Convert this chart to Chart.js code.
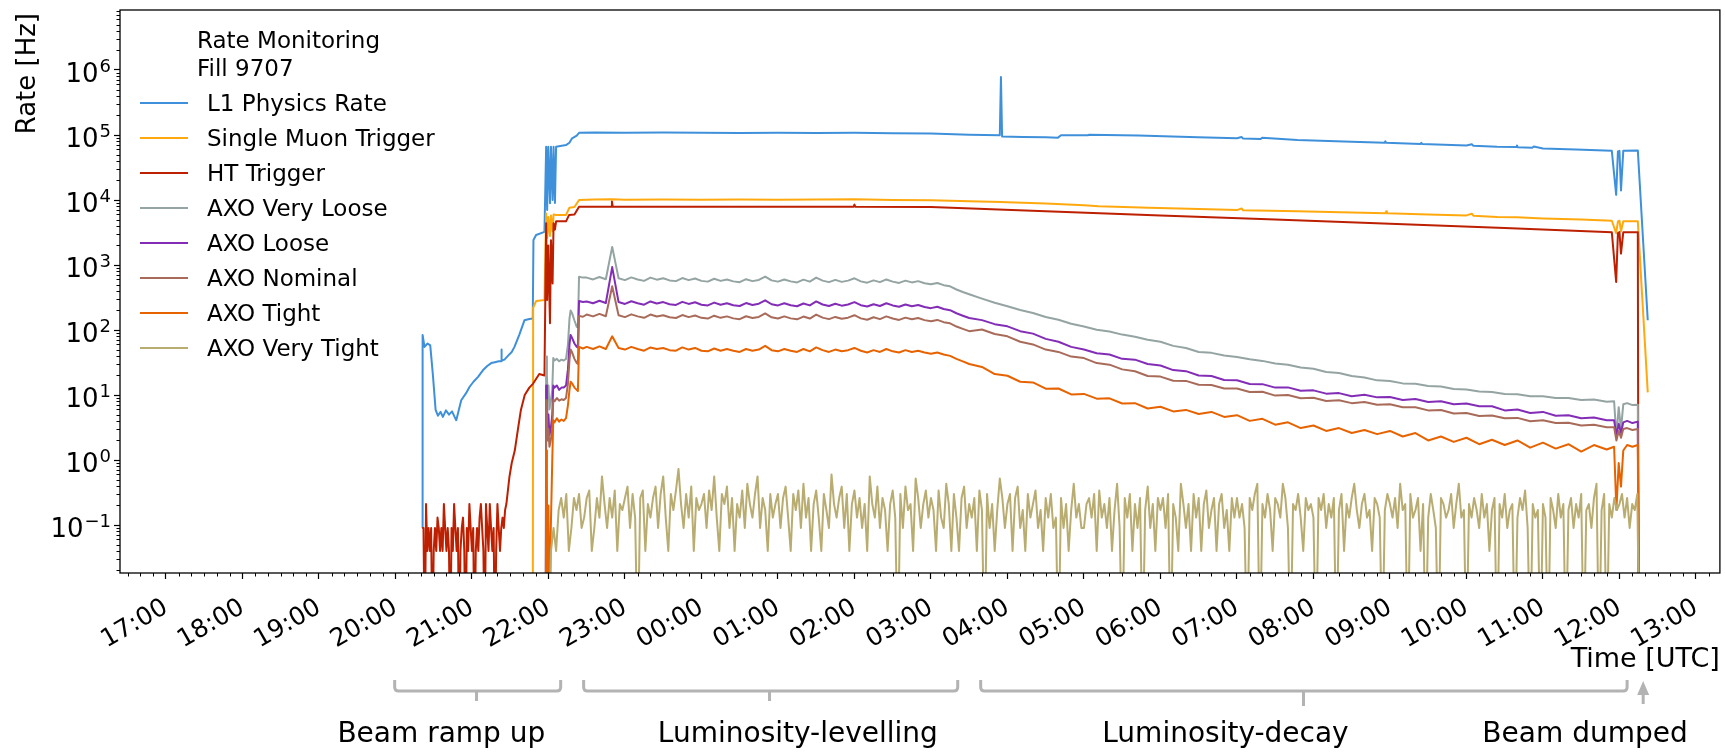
<!DOCTYPE html>
<html>
<head>
<meta charset="utf-8">
<title>Rate Monitoring - Fill 9707</title>
<script src="https://cdn.jsdelivr.net/npm/chart.js@4.4.1/dist/chart.umd.min.js"></script>
<style>
  html, body { margin: 0; padding: 0; background: #fff; overflow: hidden; }
  canvas { display: block; }
</style>
</head>
<body>
<canvas id="rates" width="1725" height="752"></canvas>
<script>
// time is in hours from 00:00 of the first day (36 = 12:00 next day)
const hourTicks = [17, 18, 19, 20, 21, 22, 23, 24, 25, 26, 27, 28, 29, 30, 31, 32, 33, 34, 35, 36, 37];
const rateTicks = [0.1, 1, 10, 100, 1e3, 1e4, 1e5, 1e6];
// a rate of 0 has no place on a log axis: it is drawn below the frame, like matplotlib clips it
const rateFloor = 1e-3;

const seriesLabels = ['L1 Physics Rate', 'Single Muon Trigger', 'HT Trigger', 'AXO Very Loose',
  'AXO Loose', 'AXO Nominal', 'AXO Tight', 'AXO Very Tight'];
const seriesColors = ['#3f90da', '#ffa90e', '#bd1f01', '#94a4a2', '#832db6', '#a96b59', '#e76300', '#b9ac70'];

// beam phases drawn under the time axis
const phaseNames = ['Beam ramp up', 'Luminosity-levelling', 'Luminosity-decay'];
const phaseFrom = [19.99, 22.46, 27.65];
const phaseTo = [22.16, 27.35, 36.10];
const phaseMid = [21.06, 24.89, 31.87];
const phaseTextAt = [20.6, 25.26, 30.85];
const dumpTime = 36.31;
const dumpTextAt = 35.55;

function timeGrid(startHour, stepMin, count) {
  const out = [];
  for (let i = 0; i < count; i++) out.push(+(startHour + i * stepMin / 60).toFixed(4));
  return out;
}

// L1 physics rate
const l1Time = [20.35, 20.355, 20.38, 20.42, 20.455, 20.49, 20.525, 20.555, 20.59, 20.62, 20.66, 20.70, 20.74, 20.77,
  20.795, 20.86, 20.93, 20.97, 21.02, 21.08, 21.143, 21.20, 21.252, 21.30, 21.35, 21.38, 21.385, 21.39, 21.425, 21.47,
  21.52, 21.556, 21.62, 21.686, 21.75, 21.795, 21.804, 21.839, 21.948, 21.97, 21.983, 21.998, 22.02, 22.033, 22.054,
  22.067, 22.085, 22.10, 22.23, 22.274, 22.309, 22.37, 22.40, 22.6, 23.0, 23.5, 24.0, 24.5, 25.0, 25.5, 26.0, 26.5,
  27.0, 27.5, 27.9, 27.915, 27.93, 28.2, 28.5, 28.66, 28.70, 29.05, 29.07, 29.71, 30.49, 31.0, 31.06, 31.08, 31.31,
  31.33, 31.79, 32.5, 32.93, 32.94, 32.95, 33.40, 33.41, 33.42, 34.0, 34.07, 34.09, 34.4, 34.65, 34.66, 34.67, 34.86,
  34.88, 35.0, 35.43, 35.9, 35.957, 35.98, 36.0, 36.02, 36.05, 36.24, 36.37];
const l1Rate = [0.09, 84, 55, 62, 58, 20, 5.9, 4.8, 5.5, 4.6, 5.8, 5.0, 5.6, 4.7, 4.1, 8.3, 11, 13.4, 16, 19, 24, 28,
  31, 32, 33, 33, 50, 34, 35, 40, 46, 55, 85, 141, 148, 150, 2430, 2900, 3240, 66000, 7000, 66000, 8900, 66000, 10000,
  66000, 9000, 66000, 70000, 76000, 89000, 98000, 108000, 109000, 108000, 109000, 108000, 107000, 108000, 107000,
  108000, 106000, 105000, 101000, 99000, 780000, 95000, 93000, 92000, 91000, 99000, 99000, 101000, 98000, 92000,
  89000, 93000, 88500, 87000, 91000, 84000, 79000, 76000, 80000, 76000, 73000, 76000, 73000, 69000, 72000, 68500,
  66000, 65500, 69000, 65000, 63500, 66500, 62000, 60000, 57000, 12000, 56000, 57000, 14000, 57000, 58000, 141];

// single muon trigger
const muTime = [21.795, 21.80, 21.84, 21.948, 21.97, 21.983, 21.998, 22.02, 22.033, 22.054, 22.067, 22.10, 22.23,
  22.274, 22.34, 22.40, 22.6, 22.83, 23.0, 23.5, 24.0, 24.5, 25.0, 25.5, 26.0, 26.5, 27.0, 27.5, 27.92, 28.0, 28.5,
  29.0, 29.19, 29.85, 30.5, 31.0, 31.06, 31.08, 31.79, 32.5, 32.94, 32.95, 32.96, 33.5, 34.0, 34.07, 34.09, 34.4,
  34.66, 35.0, 35.5, 35.9, 35.957, 35.98, 36.0, 36.02, 36.05, 36.24, 36.37];
const muRate = [0, 220, 280, 290, 6200, 2600, 5500, 2800, 5800, 3300, 6000, 5900, 5900, 7600, 7800, 10000, 10200,
  10300, 10100, 10200, 10100, 10200, 10100, 10200, 10300, 10000, 9900, 9600, 9300, 9200, 8800, 8300, 8000, 7600,
  7300, 7000, 7400, 6950, 6700, 6400, 6250, 6700, 6250, 6000, 5800, 6150, 5750, 5500, 5450, 5200, 5000, 4800, 3100,
  4700, 4800, 3300, 4700, 4700, 11];

// HT trigger: noisy start sampled every minute, then the ramp and the fill
const htTime = timeGrid(20.35, 1, 67).concat([21.49, 21.52, 21.56, 21.60, 21.64, 21.69, 21.75, 21.80, 21.88, 21.948,
  21.97, 21.983, 21.998, 22.02, 22.033, 22.054, 22.067, 22.085, 22.10, 22.23, 22.27, 22.34, 22.40, 22.82, 22.83,
  22.84, 23.5, 24.5, 25.5, 25.99, 26.0, 26.01, 27.0, 28.5, 30.0, 31.5, 33.0, 34.5, 35.9, 35.957, 35.98, 36.0, 36.02,
  36.05, 36.24, 36.25]);
const htRate = [0.09, 0.09, 0, 0.21, 0.04, 0.09, 0.04, 0.09, 0, 0.04, 0.09, 0.04, 0.13, 0.09, 0.04, 0.09, 0.04, 0.21,
  0.09, 0.04, 0.09, 0.04, 0, 0.09, 0.04, 0.21, 0.09, 0.04, 0.09, 0, 0.04, 0.09, 0.13, 0.04, 0, 0.09, 0.04, 0.21, 0.09,
  0.04, 0.09, 0, 0.04, 0.09, 0.04, 0.13, 0.21, 0.09, 0.04, 0, 0.21, 0.09, 0.04, 0.21, 0.09, 0.04, 0.09, 0, 0.04, 0.21,
  0.09, 0.04, 0.09, 0.13, 0.09, 0.17, 0.21,
  0.55, 0.9, 1.4, 2.9, 5.9, 10, 13, 15, 21, 20, 4400, 290, 2000, 127, 2400, 520, 4400, 3500, 4700, 4700, 5900, 6000,
  7900, 7900, 9500, 7900, 7900, 7850, 7900, 7900, 8500, 7900, 7800, 6700, 5800, 5000, 4300, 3700, 3200, 550, 3100,
  3200, 1500, 3200, 3200, 0];

// AXO thresholds: ramp, levelling every 5 min, decay every 10 min, beam dump
const axoTime = [21.965, 21.97, 21.98, 21.99, 22.00, 22.013, 22.03, 22.05, 22.063, 22.08, 22.11, 22.14, 22.17, 22.20,
  22.23, 22.255, 22.275, 22.29, 22.31, 22.34, 22.37, 22.385, 22.40, 22.45]
  .concat(timeGrid(22.5, 5, 61), timeGrid(27 + 40 / 60, 10, 50),
    [35.93, 35.96, 35.99, 36.02, 36.05, 36.10, 36.17, 36.24, 36.255]);

const axoVeryLoose = [0, 39, 20, 9, 14, 6, 8, 12, 37, 34, 36, 33, 35, 34, 36, 60, 150, 200, 180, 140, 112, 110, 660, 640,
  640, 600, 655, 605, 1900, 625, 585, 645, 600, 570, 640, 595, 625, 580, 565, 630, 585, 620, 570, 555,
  615, 570, 600, 560, 545, 605, 565, 590, 665, 580, 555, 600, 560, 540, 595, 555, 640, 575, 545, 590,
  550, 575, 625, 560, 535, 580, 545, 600, 555, 530, 575, 540, 565, 525, 505, 530, 490, 470, 420, 385, 355,
  304, 262, 232, 203, 183, 159, 144, 125, 113, 101, 95, 85, 79, 71, 66, 57, 53, 46, 44.5, 40.5,
  38.5, 35.5, 33.5, 30.5, 29.3, 26.5, 25.3, 22.6, 21.8, 19.6, 18.6, 16.8, 16.4, 15.1, 14.9, 13.8, 13.5, 12.4, 12.2, 11.3,
  11.1, 10.4, 10.3, 9.6, 9.6, 9.0, 9.0, 8.4, 8.5, 7.9,
  8.0, 2.3, 6.5, 3.0, 7.2, 7.5, 7.0, 7.1, 0];

const axoLoose = [0, 14, 9, 3, 5, 2.4, 3, 5, 14, 13, 14, 12, 13, 13, 14, 25, 60, 84, 75, 62, 55, 54, 280, 270,
  275, 258, 282, 260, 930, 269, 252, 277, 258, 245, 275, 256, 269, 249, 243, 271, 252, 267, 245, 239,
  264, 245, 258, 241, 234, 260, 243, 254, 286, 249, 239, 258, 241, 232, 256, 239, 275, 247, 234, 254,
  237, 247, 269, 241, 230, 249, 234, 258, 239, 228, 247, 232, 243, 226, 217, 228, 211, 202, 181, 166, 153,
  142, 123, 114, 96, 88, 73, 66, 55, 50, 44, 42, 36, 35, 30, 28.5, 24.2, 23.3, 20, 19.6, 17,
  16.9, 14.8, 14.7, 13, 13.1, 11.6, 11.8, 10.5, 10.7, 9.6, 10.1, 9.2, 9.3, 8.4, 8.7, 7.8, 8.0, 7.2, 7.4, 6.7,
  6.7, 5.8, 6.0, 5.3, 5.5, 4.8, 4.9, 4.4, 4.5, 4.1,
  4.1, 2.4, 3.6, 2.6, 3.8, 4.0, 3.7, 3.9, 0];

const axoNominal = [0, 8.3, 5, 2, 3, 1.6, 2, 3, 8.5, 8, 9, 8.2, 8.6, 8.4, 9, 15, 35, 50, 45, 36, 31, 30, 165, 160,
  173, 162, 177, 163, 470, 169, 158, 174, 162, 154, 173, 161, 169, 157, 153, 170, 158, 167, 154, 150,
  166, 154, 162, 151, 147, 163, 153, 159, 180, 157, 150, 162, 151, 146, 161, 150, 173, 155, 147, 159,
  149, 155, 169, 151, 144, 157, 147, 162, 150, 143, 155, 146, 153, 142, 136, 143, 132, 127, 113, 104, 96,
  102, 87, 80, 66, 60, 50, 46, 39, 37, 31, 29.3, 24.8, 23.2, 19.6, 19.2, 16.6, 16.5, 14.4, 14.3, 12.6,
  12.6, 11.1, 11.2, 9.8, 10.0, 8.9, 9.1, 8.1, 8.3, 7.5, 7.8, 7.1, 7.2, 6.5, 6.5, 5.8, 5.9, 5.2, 5.3, 4.75,
  4.85, 4.4, 4.45, 3.95, 4.1, 3.7, 3.75, 3.4, 3.5, 3.2,
  3.2, 2.0, 2.8, 2.2, 3.0, 3.1, 2.9, 3.0, 0];

const axoTight = [0, 1.4, 0.5, 0, 0.2, 0, 0.08, 1, 4.1, 3.8, 4.4, 3.9, 4.2, 4.0, 4.4, 7, 12, 16, 15, 13, 12, 11.5, 55, 52,
  55, 51, 56, 51, 80, 53, 50, 55, 51, 48, 54, 51, 53, 49, 48, 54, 50, 53, 48, 47,
  52, 48, 51, 48, 46, 51, 48, 50, 57, 49, 47, 51, 48, 46, 51, 47, 54, 49, 46, 50,
  47, 49, 53, 48, 45, 49, 46, 51, 47, 45, 49, 46, 48, 45, 43, 45, 42, 40, 36, 33, 30,
  27, 21, 19.8, 16, 15.6, 12.5, 12.6, 10.2, 10.4, 8.8, 8.9, 7.4, 7.5, 6.2, 6.6, 5.6, 5.9, 5.1, 5.5, 4.6,
  4.9, 4.0, 4.3, 3.5, 3.8, 3.1, 3.4, 2.8, 3.1, 2.6, 2.9, 2.5, 2.8, 2.3, 2.6, 2.0, 2.3, 1.9, 2.2, 1.75,
  2.05, 1.7, 2.0, 1.55, 1.85, 1.5, 1.75, 1.35, 1.7, 1.45,
  1.6, 0.17, 0.9, 0.39, 1.4, 1.7, 1.6, 1.7, 0];

// very tight: a few counts per lumi section, sampled every 2 min from 22:00, one row per hour
const vtTime = timeGrid(22, 2, 428).concat([36.26]);
const axoVeryTight = [
  0, 0.04, 0.09, 0.04, 0.17, 0.26, 0.13, 0.3, 0.04, 0.09, 0.26, 0.17, 0.3, 0.09, 0.13, 0.26, 0.34, 0.04, 0.09, 0.26, 0.13, 0.56, 0.21, 0.09, 0.26, 0.13, 0.34, 0.04, 0.21, 0.17,
  0.26, 0.39, 0.09, 0.3, 0.13, 0, 0.26, 0.34, 0.04, 0.21, 0.13, 0.26, 0.39, 0.09, 0.3, 0.56, 0.13, 0.04, 0.3, 0.17, 0.34, 0.73, 0.21, 0.09, 0.3, 0.13, 0.39, 0.04, 0.26, 0.17,
  0.21, 0.3, 0.09, 0.34, 0.17, 0.56, 0.13, 0.04, 0.3, 0.21, 0.39, 0.09, 0.26, 0.04, 0.21, 0.13, 0.34, 0.09, 0.43, 0.21, 0.13, 0.3, 0.56, 0.09, 0.26, 0.17, 0.04, 0.3, 0.13, 0.21,
  0.3, 0.09, 0.26, 0.39, 0.13, 0.04, 0.3, 0.17, 0.34, 0.09, 0.43, 0.13, 0.26, 0.04, 0.21, 0.34, 0.13, 0.04, 0.3, 0.17, 0.09, 0.6, 0.21, 0.13, 0.26, 0.39, 0.09, 0.3, 0.04, 0.21,
  0.34, 0.13, 0.26, 0.09, 0.21, 0.04, 0.56, 0.21, 0.13, 0.39, 0.09, 0.26, 0.17, 0.04, 0.21, 0.34, 0.13, 0, 0.3, 0.09, 0.39, 0.17, 0.21, 0.04, 0.52, 0.26, 0.09, 0.21, 0.34, 0.13,
  0.26, 0.17, 0.04, 0.34, 0.13, 0.09, 0.43, 0.21, 0.04, 0.3, 0.13, 0.04, 0.26, 0.39, 0.09, 0.21, 0.13, 0.26, 0.04, 0.34, 0.17, 0, 0.3, 0.09, 0.21, 0.04, 0.17, 0.52, 0.26, 0.09,
  0.21, 0.3, 0.04, 0.26, 0.39, 0.09, 0.17, 0.04, 0.3, 0.13, 0.21, 0.34, 0.09, 0.17, 0.04, 0.26, 0.13, 0.3, 0.09, 0.13, 0, 0.26, 0.09, 0.21, 0.04, 0.17, 0.43, 0.13, 0.21, 0.09,
  0.09, 0.21, 0.26, 0.13, 0.3, 0.04, 0.34, 0.13, 0.21, 0.09, 0.26, 0.04, 0.17, 0.43, 0.09, 0, 0.26, 0.13, 0.3, 0.04, 0.21, 0.09, 0.26, 0, 0.17, 0.39, 0.09, 0.21, 0.04, 0.26,
  0.17, 0.26, 0.09, 0.3, 0, 0.21, 0.13, 0.04, 0.43, 0.21, 0.09, 0.21, 0.04, 0.3, 0.13, 0.26, 0.04, 0.21, 0.34, 0.09, 0.17, 0.26, 0.04, 0.21, 0.3, 0.09, 0.17, 0.04, 0.26, 0.13,
  0.26, 0.13, 0.21, 0.09, 0, 0.26, 0.17, 0.3, 0.43, 0, 0.21, 0.13, 0.3, 0.17, 0.04, 0.26, 0.21, 0.13, 0.43, 0.26, 0.09, 0, 0.21, 0.17, 0.3, 0.13, 0.04, 0.26, 0.17, 0.21,
  0.13, 0, 0.26, 0.17, 0.3, 0.09, 0.21, 0.13, 0.26, 0, 0.17, 0.3, 0.04, 0.21, 0.13, 0.26, 0.43, 0.17, 0.09, 0.21, 0.3, 0.13, 0.17, 0.04, 0.26, 0.21, 0.13, 0, 0.17, 0.3,
  0.21, 0.13, 0.26, 0.09, 0.43, 0.17, 0.21, 0, 0.3, 0.13, 0.17, 0.26, 0.04, 0.21, 0, 0.13, 0.3, 0.17, 0.09, 0, 0.26, 0.21, 0.13, 0.17, 0.3, 0.09, 0.21, 0.43, 0.13, 0.17,
  0, 0.21, 0.13, 0.26, 0.17, 0.09, 0.3, 0.13, 0.21, 0.04, 0.17, 0.26, 0, 0.21, 0.13, 0.3, 0.09, 0.17, 0.21, 0, 0.13, 0.26, 0.17, 0.34, 0.09, 0, 0.21, 0.13, 0.17, 0,
  0.21, 0.13, 0, 0.26, 0.17, 0.09, 0.3, 0.13, 0.21, 0, 0.17, 0.26, 0.09, 0.21, 0.13, 0.3, 0, 0.17, 0.21, 0.09, 0.26, 0.43, 0, 0.17, 0.3, 0, 0.21, 0.13, 0.26, 0.17,
  0.21, 0.3, 0.13, 0.26, 0.09, 0.21, 0.17, 0.3, 0];

const seriesTime = [l1Time, muTime, htTime, axoTime, axoTime, axoTime, axoTime, vtTime];
const seriesRate = [l1Rate, muRate, htRate, axoVeryLoose, axoLoose, axoNominal, axoTight, axoVeryTight];

function hourLabel(v) {
  const h = ((Math.round(v) % 24) + 24) % 24;
  return String(h).padStart(2, '0') + ':00';
}

// minor ticks, power-of-ten labels, frame, axis titles, legend and phase brackets
const decor = {
  id: 'decor',
  afterDraw(chart) {
    const {ctx, chartArea: a} = chart;
    const x = chart.scales.x, y = chart.scales.y;
    ctx.save();

    ctx.strokeStyle = '#000';
    ctx.lineWidth = 1;
    ctx.beginPath();
    for (let m = Math.ceil(x.min * 6); m <= Math.floor(x.max * 6); m++) {
      if (m % 6 === 0) continue;
      const px = Math.round(x.getPixelForValue(m / 6)) + 0.5;
      ctx.moveTo(px, a.bottom);
      ctx.lineTo(px, a.bottom + 3.5);
    }
    for (let d = -2; d <= 6; d++) {
      for (let k = 2; k <= 9; k++) {
        const v = k * Math.pow(10, d);
        if (v <= y.min || v >= y.max) continue;
        const py = Math.round(y.getPixelForValue(v)) + 0.5;
        ctx.moveTo(a.left, py);
        ctx.lineTo(a.left - 3.5, py);
      }
    }
    ctx.stroke();

    ctx.lineWidth = 1.3;
    ctx.strokeRect(a.left, a.top, a.right - a.left, a.bottom - a.top);

    // 10^n labels with a raised exponent
    ctx.fillStyle = '#000';
    ctx.textAlign = 'right';
    ctx.textBaseline = 'alphabetic';
    y.ticks.forEach(t => {
      const py = y.getPixelForValue(t.value);
      const e = String(Math.round(Math.log10(t.value))).replace('-', '\u2212');
      ctx.font = '18px "DejaVu Sans"';
      const ew = ctx.measureText(e).width;
      ctx.fillText(e, a.left - 9, py + 2);
      ctx.font = '26px "DejaVu Sans"';
      ctx.fillText('10', a.left - 10 - ew, py + 12);
    });

    ctx.font = '26px "DejaVu Sans"';
    ctx.save();
    ctx.translate(35, 13);
    ctx.rotate(-Math.PI / 2);
    ctx.textAlign = 'right';
    ctx.fillText('Rate [Hz]', 0, 0);
    ctx.restore();

    ctx.font = '27px "DejaVu Sans"';
    ctx.textAlign = 'right';
    ctx.fillText('Time [UTC]', a.right, 667);

    // legend
    ctx.font = '23px "DejaVu Sans"';
    ctx.textAlign = 'left';
    ctx.fillText('Rate Monitoring', 197, 48);
    ctx.fillText('Fill 9707', 197, 76);
    chart.data.datasets.forEach((ds, i) => {
      const ly = 103 + 35 * i;
      ctx.strokeStyle = ds.borderColor;
      ctx.lineWidth = 2;
      ctx.beginPath();
      ctx.moveTo(140, ly);
      ctx.lineTo(188, ly);
      ctx.stroke();
      ctx.fillText(ds.label, 207, ly + 8);
    });

    // phase brackets
    ctx.strokeStyle = '#b3b3b3';
    ctx.lineWidth = 3;
    ctx.lineJoin = 'round';
    phaseNames.forEach((name, i) => {
      const x1 = x.getPixelForValue(phaseFrom[i]);
      const x2 = x.getPixelForValue(phaseTo[i]);
      const xm = x.getPixelForValue(phaseMid[i]);
      const top = 680, bar = 691, tip = i === 2 ? 706 : 701, r = 4;
      ctx.beginPath();
      ctx.moveTo(x1, top);
      ctx.lineTo(x1, bar - r);
      ctx.quadraticCurveTo(x1, bar, x1 + r, bar);
      ctx.lineTo(x2 - r, bar);
      ctx.quadraticCurveTo(x2, bar, x2, bar - r);
      ctx.lineTo(x2, top);
      ctx.moveTo(xm, bar);
      ctx.lineTo(xm, tip);
      ctx.stroke();
    });
    const xd = x.getPixelForValue(dumpTime);
    ctx.beginPath();
    ctx.moveTo(xd, 704);
    ctx.lineTo(xd, 692);
    ctx.stroke();
    ctx.fillStyle = '#b3b3b3';
    ctx.beginPath();
    ctx.moveTo(xd, 681);
    ctx.lineTo(xd - 6, 695);
    ctx.lineTo(xd + 6, 695);
    ctx.closePath();
    ctx.fill();

    ctx.fillStyle = '#000';
    ctx.font = '28px "DejaVu Sans"';
    ctx.textAlign = 'center';
    phaseNames.forEach((name, i) => {
      ctx.fillText(name, x.getPixelForValue(phaseTextAt[i]), 742);
    });
    ctx.fillText('Beam dumped', x.getPixelForValue(dumpTextAt), 742);
    ctx.restore();
  }
};

Chart.defaults.font.family = '"DejaVu Sans", sans-serif';
Chart.defaults.color = '#000';

const datasets = seriesLabels.map((label, i) => ({
  label: label,
  data: seriesTime[i].map((t, j) => ({x: t, y: seriesRate[i][j] > 0 ? seriesRate[i][j] : rateFloor})),
  borderColor: seriesColors[i],
  backgroundColor: seriesColors[i],
  borderWidth: 2,
  pointRadius: 0,
  tension: 0,
  borderJoinStyle: 'round',
  fill: false,
  order: seriesLabels.length - 1 - i
}));

new Chart(document.getElementById('rates'), {
  type: 'line',
  data: {datasets: datasets},
  options: {
    responsive: false,
    devicePixelRatio: 1,
    animation: false,
    events: [],
    layout: {padding: {left: 0, right: 3, top: 10, bottom: 0}},
    plugins: {
      legend: {display: false},
      tooltip: {enabled: false}
    },
    scales: {
      x: {
        type: 'linear',
        min: 16.3995,
        max: 37.313,
        afterBuildTicks: s => { s.ticks = hourTicks.map(v => ({value: v})); },
        afterFit: s => { s.height = 179; },
        ticks: {
          autoSkip: false,
          minRotation: 30,
          maxRotation: 30,
          padding: 14,
          font: {size: 25},
          color: '#000',
          callback: v => hourLabel(v)
        },
        grid: {display: true, drawOnChartArea: false, drawTicks: true, tickLength: 6, tickColor: '#000', tickWidth: 1.2},
        border: {display: false}
      },
      y: {
        type: 'logarithmic',
        min: 0.01828,
        max: 8.375e6,
        afterBuildTicks: s => { s.ticks = rateTicks.map(v => ({value: v})); },
        afterFit: s => { s.width = 120; },
        ticks: {display: false, autoSkip: false},
        grid: {display: true, drawOnChartArea: false, drawTicks: true, tickLength: 6, tickColor: '#000', tickWidth: 1.2},
        border: {display: false}
      }
    }
  },
  plugins: [decor]
});
</script>
</body>
</html>
